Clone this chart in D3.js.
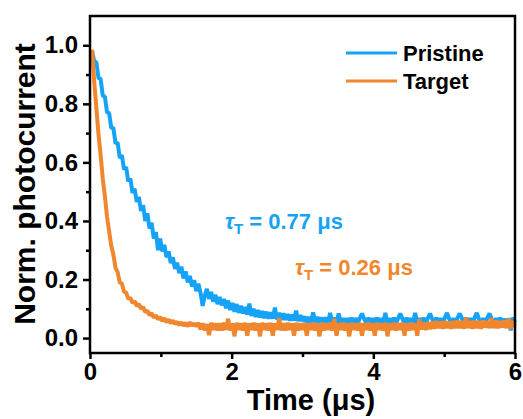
<!DOCTYPE html>
<html>
<head>
<meta charset="utf-8">
<script src="https://cdn.jsdelivr.net/npm/d3@7"></script>
<style>
  body { margin: 0; background: #fff; }
  svg text { font-family: "Liberation Sans", Arial, sans-serif; font-weight: bold; }
</style>
</head>
<body>
<div id="chart"></div>
<script>
// sampling of the transients (µs)
const timeStart = 0.03;
const timeStep = 0.03;

// Pristine, normalised photocurrent, one row = 10 samples
const pristine = [
  .980,.945,.942,.888,.885,.828,.825,.771,.769,.717,
  .718,.665,.668,.615,.625,.576,.584,.535,.545,.496,
  .510,.465,.482,.434,.454,.400,.426,.374,.394,.340,
  .362,.300,.340,.296,.318,.276,.296,.256,.276,.236,
  .258,.222,.244,.204,.228,.190,.212,.176,.198,.160,
  .186,.156,.110,.144,.168,.134,.158,.124,.148,.116,
  .140,.112,.134,.102,.128,.096,.120,.090,.116,.086,
  .110,.084,.106,.080,.118,.076,.100,.072,.096,.070,
  .092,.068,.090,.066,.088,.066,.104,.064,.086,.062,
  .084,.062,.082,.060,.080,.060,.094,.058,.078,.058,
  .074,.054,.072,.054,.088,.054,.072,.052,.070,.054,
  .070,.052,.086,.052,.070,.050,.084,.052,.068,.050,
  .068,.050,.070,.048,.068,.052,.068,.084,.066,.050,
  .070,.050,.068,.048,.070,.050,.068,.052,.086,.050,
  .068,.048,.070,.050,.068,.084,.066,.050,.070,.048,
  .068,.050,.086,.052,.068,.048,.070,.050,.068,.084,
  .066,.050,.070,.048,.068,.050,.070,.086,.066,.050,
  .068,.048,.070,.084,.068,.050,.070,.048,.068,.050,
  .070,.086,.066,.050,.068,.048,.070,.084,.066,.050,
  .068,.048,.070,.050,.066,.036,.068,.026,.070,.052
];

// Target
const target = [
  .985,.875,.785,.695,.625,.545,.485,.415,.365,.315,
  .285,.240,.225,.190,.186,.158,.156,.134,.138,.120,
  .126,.110,.116,.100,.106,.088,.094,.078,.085,.070,
  .078,.064,.072,.058,.068,.054,.064,.050,.060,.048,
  .056,.044,.054,.042,.052,.040,.054,.042,.050,.040,
  .052,.030,.050,.026,.048,.010,.052,.028,.050,.026,
  .050,.026,.052,.028,.066,.026,.050,.006,.052,.028,
  .050,.026,.052,.008,.050,.028,.052,.026,.050,.006,
  .052,.028,.050,.026,.052,.008,.050,.028,.068,.026,
  .050,.026,.052,.028,.050,.008,.052,.026,.050,.028,
  .052,.008,.050,.028,.052,.026,.050,.006,.052,.026,
  .050,.028,.052,.026,.066,.008,.050,.028,.052,.026,
  .050,.006,.052,.028,.050,.026,.052,.008,.050,.028,
  .052,.026,.050,.008,.052,.028,.050,.026,.052,.006,
  .050,.028,.052,.026,.050,.028,.052,.008,.050,.026,
  .052,.028,.050,.008,.064,.030,.052,.028,.054,.030,
  .056,.032,.058,.034,.056,.032,.058,.034,.056,.032,
  .058,.034,.060,.034,.058,.032,.070,.034,.058,.032,
  .060,.034,.058,.032,.060,.036,.058,.034,.068,.034,
  .060,.034,.058,.036,.060,.034,.066,.032,.058,.038
];

const seriesNames = ["Pristine", "Target"];
const seriesColors = ["#16a2f6", "#f0872e"];
const lifetimes = ["0.77", "0.26"];

const xTicks = [0, 2, 4, 6];
const xMinor = [1, 3, 5];
const yTicks = [0, 0.2, 0.4, 0.6, 0.8, 1.0];
const yMinor = [0.1, 0.3, 0.5, 0.7, 0.9];

const W = 523, H = 419;
const margin = { top: 16, right: 8, bottom: 66, left: 90 };
const width = W - margin.left - margin.right,
  height = H - margin.top - margin.bottom;

const svg = d3.select("#chart").append("svg")
  .attr("width", W).attr("height", H);

const g = svg.append("g")
  .attr("transform", `translate(${margin.left},${margin.top})`);

const x = d3.scaleLinear().domain([0, 6]).range([0, width]);
const y = d3.scaleLinear().domain([-0.051, 1.1]).range([height, 0]);

const times = d3.range(pristine.length).map(i => timeStart + i * timeStep);

const line = d3.line()
  .x((d, i) => x(times[i]))
  .y(d => y(d));

[pristine, target].forEach((vals, k) => {
  g.append("path")
    .datum(vals)
    .attr("fill", "none")
    .attr("stroke", seriesColors[k])
    .attr("stroke-width", 4)
    .attr("stroke-linejoin", "bevel")
    .attr("d", line);
});

// frame
g.append("rect")
  .attr("width", width).attr("height", height)
  .attr("fill", "none").attr("stroke", "#000").attr("stroke-width", 2.5);

// x axis
g.append("g").attr("transform", `translate(0,${height})`)
  .call(d3.axisBottom(x).tickValues(xTicks).tickFormat(d3.format("d")).tickSize(6).tickPadding(4));
g.append("g").attr("transform", `translate(0,${height})`)
  .call(d3.axisBottom(x).tickValues(xMinor).tickFormat("").tickSize(4));

// y axis
g.append("g")
  .call(d3.axisLeft(y).tickValues(yTicks).tickFormat(d3.format(".1f")).tickSize(7).tickPadding(5));
g.append("g")
  .call(d3.axisLeft(y).tickValues(yMinor).tickFormat("").tickSize(4));

g.selectAll(".domain").remove();
g.selectAll(".tick line").attr("stroke", "#000").attr("stroke-width", 2.5);
g.selectAll(".tick text").attr("fill", "#000").style("font-size", "24px");

// axis titles
svg.append("text")
  .attr("transform", "translate(35,184) rotate(-90)")
  .attr("text-anchor", "middle")
  .style("font-size", "30px")
  .text("Norm. photocurrent");

svg.append("text")
  .attr("x", 311).attr("y", 410)
  .attr("text-anchor", "middle")
  .style("font-size", "29px")
  .text("Time (μs)");

// legend
const legend = svg.append("g");
seriesNames.forEach((name, k) => {
  const ly = 53 + k * 28;
  legend.append("line")
    .attr("x1", 346).attr("x2", 397).attr("y1", ly).attr("y2", ly)
    .attr("stroke", seriesColors[k]).attr("stroke-width", 3);
  legend.append("text")
    .attr("x", 403).attr("y", ly + 8)
    .style("font-size", "22px")
    .text(name);
});

// lifetime labels
const notePos = [[225, 229], [295, 275]];
lifetimes.forEach((tau, k) => {
  const t = svg.append("text")
    .attr("x", notePos[k][0]).attr("y", notePos[k][1])
    .attr("fill", seriesColors[k])
    .style("font-size", "22px");
  t.append("tspan").style("font-style", "italic").text("τ");
  t.append("tspan").attr("dy", 5).style("font-size", "15px").text("T");
  t.append("tspan").attr("dy", -5).text(` = ${tau} μs`);
});
</script>
</body>
</html>
